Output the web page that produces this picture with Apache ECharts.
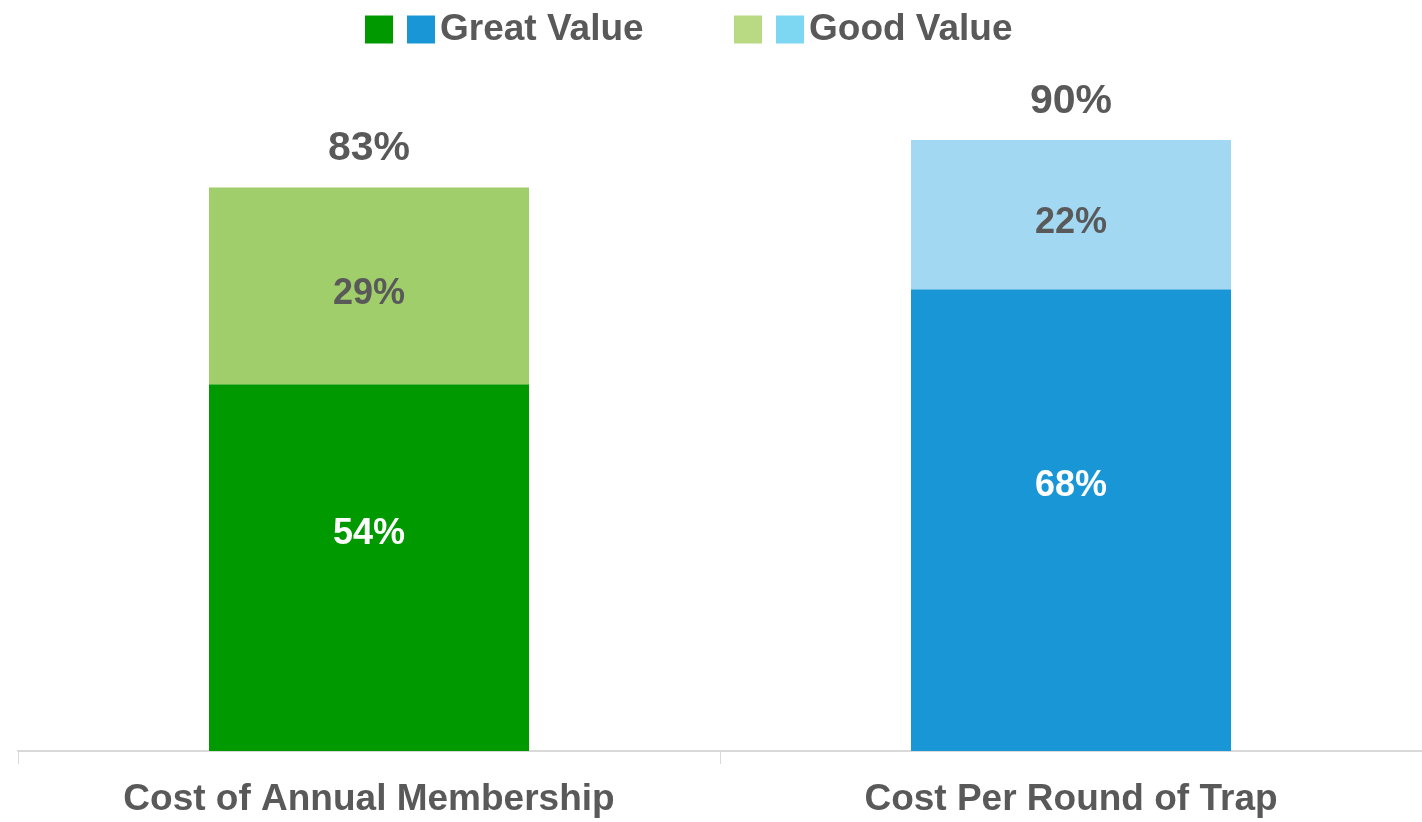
<!DOCTYPE html>
<html>
<head>
<meta charset="utf-8">
<script src="https://cdn.jsdelivr.net/npm/echarts@6/dist/echarts.min.js"></script>
<style>
  html, body { margin: 0; padding: 0; background: #fff; }
  #main { width: 1422px; height: 822px; }
</style>
</head>
<body>
<div id="main"></div>
<script>
const categories = ["Cost of Annual Membership", "Cost Per Round of Trap"];
const greatValue = [54, 68];
const goodValue = [29, 22];
const totals = [83, 90];

// one colour per bar: green for the first, blue for the second
const greatColors = ["#009900", "#1996d6"];
const goodColors = ["#a0ce6a", "#a3d8f2"];
const legendGood = ["#b9d982", "#7dd6f2"];
const greatNames = ["Great Value ", "Great Value"];
const goodNames = ["Good Value ", "Good Value"];

const textGray = "#595959";
const font = "Liberation Sans, Arial, sans-serif";

// only the bar at index i gets a value, the other is left empty
const onlyAt = (arr, i) => arr.map((v, j) => (j === i ? v : "-"));

const series = [];
categories.forEach((c, i) => {
  series.push({
    name: greatNames[i],
    type: "bar",
    stack: "total",
    barWidth: 320,
    data: onlyAt(greatValue, i),
    itemStyle: { color: greatColors[i] },
    label: {
      show: true,
      position: "inside",
      offset: [0, -34],
      formatter: "{c}%",
      color: "#fff",
      fontSize: 36,
      fontWeight: "bold",
      fontFamily: font,
    },
  });
});
categories.forEach((c, i) => {
  series.push({
    name: goodNames[i],
    type: "bar",
    stack: "total",
    barWidth: 320,
    data: onlyAt(goodValue, i),
    itemStyle: { color: goodColors[i] },
    label: {
      show: true,
      position: "inside",
      offset: [0, 8],
      formatter: "{c}%",
      color: textGray,
      fontSize: 36,
      fontWeight: "bold",
      fontFamily: font,
    },
  });
});
// zero height bar on top of the stack, only carries the total label
series.push({
  name: "Total",
  type: "bar",
  stack: "total",
  barWidth: 320,
  data: totals.map(() => 0),
  itemStyle: { color: "transparent" },
  label: {
    show: true,
    position: "top",
    distance: 18,
    formatter: (p) => totals[p.dataIndex] + "%",
    color: textGray,
    fontSize: 41,
    fontWeight: "bold",
    fontFamily: font,
  },
});

const legendCommon = {
  top: 6,
  itemWidth: 28,
  itemHeight: 28,
  itemGap: 14,
  icon: "rect",
  selectedMode: false,
  formatter: (name) => (name.endsWith(" ") ? "" : name),
  textStyle: {
    color: textGray,
    fontSize: 37,
    fontWeight: "bold",
    fontFamily: font,
  },
};

const option = {
  animation: false,
  backgroundColor: "#fff",
  legend: [
    Object.assign({}, legendCommon, {
      left: 360,
      data: [
        { name: greatNames[0], itemStyle: { color: greatColors[0] } },
        { name: greatNames[1], itemStyle: { color: greatColors[1] } },
      ],
    }),
    Object.assign({}, legendCommon, {
      left: 729,
      data: [
        { name: goodNames[0], itemStyle: { color: legendGood[0] } },
        { name: goodNames[1], itemStyle: { color: legendGood[1] } },
      ],
    }),
  ],
  grid: { left: 18, right: 0, top: 72, bottom: 71, containLabel: false },
  xAxis: {
    type: "category",
    data: categories,
    axisLine: { lineStyle: { color: "#d9d9d9", width: 2 } },
    axisTick: { show: true, length: 13, lineStyle: { color: "#d9d9d9", width: 1 } },
    axisLabel: {
      margin: 30,
      color: textGray,
      fontSize: 37,
      fontWeight: "bold",
      fontFamily: font,
    },
  },
  yAxis: { type: "value", min: 0, max: 100, show: false },
  series: series,
};

const chart = echarts.init(document.getElementById("main"));
chart.setOption(option);
window.addEventListener("resize", function () {
  chart.resize();
});
</script>
</body>
</html>
